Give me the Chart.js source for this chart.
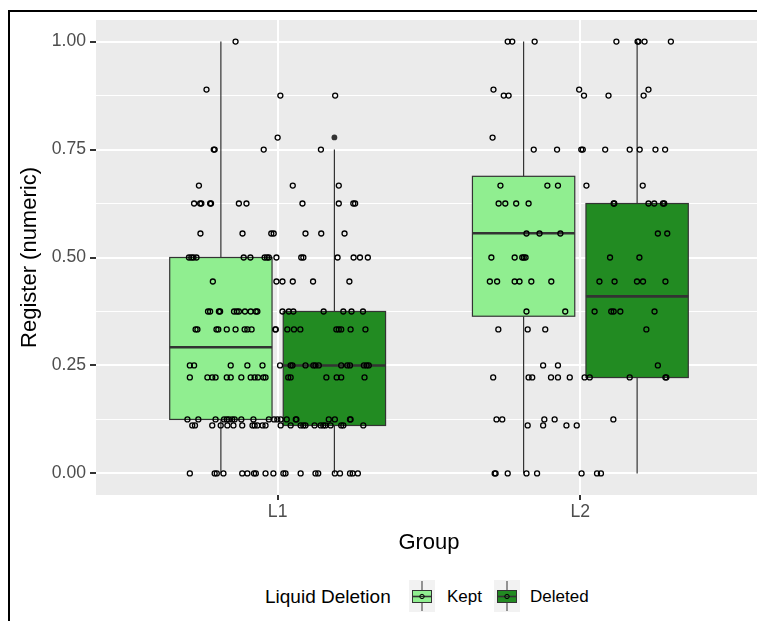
<!DOCTYPE html>
<html>
<head>
<meta charset="utf-8">
<script src="https://cdn.jsdelivr.net/npm/chart.js@4.4.0/dist/chart.umd.min.js"></script>
<style>
  body { margin: 0; background: #fff; }
  #wrap { position: relative; width: 757px; height: 621px; overflow: hidden; font-family: 'Liberation Sans', Arial, sans-serif; }
  #frame { position: absolute; left: 8px; top: 10px; width: 800px; height: 700px; border-left: 2px solid #000; border-top: 2px solid #000; }
  #registerChart { position: absolute; left: 0; top: 0; }
  .lg { position: absolute; color: #000; white-space: nowrap; line-height: 1; }
  .key { position: absolute; }
</style>
</head>
<body>
<div id="wrap">
  <div id="frame"></div>
  <canvas id="registerChart" width="780" height="565"></canvas>
  <span class="lg" style="left:265px; top:587px; font-size:19px;">Liquid Deletion</span>
  <canvas class="key" id="keyKept" width="26" height="32" style="left:409px; top:580px;"></canvas>
  <span class="lg" style="left:447px; top:588px; font-size:17px;">Kept</span>
  <canvas class="key" id="keyDeleted" width="26" height="32" style="left:494px; top:580px;"></canvas>
  <span class="lg" style="left:530px; top:588px; font-size:17px;">Deleted</span>
</div>
<script>
'use strict';

// Groups on the x axis and the two fill levels
const categories = ['L1', 'L2'];
const seriesNames = ['Kept', 'Deleted'];

// Box statistics, one entry per group
const keptMin = [0, 0];
const keptQ1 = [0.125, 0.364];
const keptMedian = [0.292, 0.556];
const keptQ3 = [0.5, 0.688];
const keptMax = [1, 1];
const keptOutliers = [[], []];

const deletedMin = [0, 0];
const deletedQ1 = [0.111, 0.222];
const deletedMedian = [0.25, 0.41];
const deletedQ3 = [0.375, 0.625];
const deletedMax = [0.75, 1];
const deletedOutliers = [[0.778], []];

// Register values that occur in the data (top to bottom)
const registerLevels = [1, 8 / 9, 7 / 8, 7 / 9, 3 / 4, 2 / 3, 5 / 8, 5 / 9, 1 / 2, 4 / 9, 3 / 8, 1 / 3, 1 / 4, 2 / 9, 1 / 8, 1 / 9, 0];

// Horizontal jitter of every raw observation, per level, in group units
const l1Jitter = [
  [-0.139],
  [-0.235],
  [0.009, 0.190],
  [0.000],
  [-0.211, -0.208, -0.046, 0.143],
  [-0.260, 0.050, 0.202],
  [-0.276, -0.256, -0.252, -0.223, -0.220, -0.128, -0.103, 0.082, 0.202, 0.250, 0.256],
  [-0.255, -0.116, -0.021, -0.013, 0.092, 0.144, 0.221],
  [-0.293, -0.285, -0.278, -0.268, -0.112, -0.090, -0.043, -0.035, -0.029, -0.004, 0.078, 0.085, 0.198, 0.251, 0.272, 0.298],
  [-0.214, -0.004, 0.016, 0.050, 0.117, 0.237],
  [-0.230, -0.223, -0.194, -0.190, -0.144, -0.135, -0.128, -0.108, -0.089, -0.072, -0.067, 0.016, 0.037, 0.052, 0.152, 0.217, 0.244, 0.282],
  [-0.271, -0.265, -0.202, -0.196, -0.168, -0.139, -0.109, -0.100, -0.086, -0.008, -0.006, 0.032, 0.054, 0.075, 0.194, 0.202, 0.210, 0.241, 0.290],
  [-0.290, -0.276, -0.155, -0.100, -0.050, 0.008, 0.043, 0.049, 0.092, 0.118, 0.125, 0.136, 0.210, 0.230, 0.239, 0.285, 0.294, 0.301],
  [-0.290, -0.232, -0.216, -0.205, -0.168, -0.155, -0.120, -0.089, -0.076, -0.065, -0.047, -0.040, 0.035, 0.043, 0.161, 0.195, 0.210, 0.287],
  [-0.298, -0.262, -0.205, -0.177, -0.168, -0.161, -0.150, -0.142, -0.120, -0.080, -0.029, -0.012, -0.001, 0.010, 0.030, 0.060, 0.062, 0.169, 0.189, 0.239, 0.241],
  [-0.282, -0.273, -0.216, -0.188, -0.166, -0.146, -0.117, -0.083, -0.076, -0.067, -0.050, -0.040, 0.010, 0.043, 0.076, 0.085, 0.092, 0.122, 0.142, 0.151, 0.158, 0.175, 0.210, 0.217, 0.283],
  [-0.290, -0.208, -0.201, -0.179, -0.117, -0.100, -0.078, -0.072, -0.040, -0.014, 0.019, 0.026, 0.076, 0.125, 0.134, 0.189, 0.206, 0.239, 0.248, 0.265]
];

const l2Jitter = [
  [-0.240, -0.225, -0.151, 0.119, 0.189, 0.192, 0.212, 0.299],
  [-0.287, -0.004, 0.225],
  [-0.253, -0.237, 0.012, 0.093, 0.209],
  [-0.290],
  [-0.154, -0.077, 0.003, 0.008, 0.082, 0.163, 0.196, 0.248, 0.280],
  [-0.264, -0.109, -0.074, 0.020, 0.206],
  [-0.270, -0.248, -0.212, -0.171, 0.110, 0.112, 0.225, 0.244, 0.273, 0.277],
  [-0.178, -0.135, -0.066, 0.256, 0.287],
  [-0.294, -0.217, -0.192, -0.187, -0.181, 0.098, 0.195],
  [-0.299, -0.275, -0.217, -0.201, -0.162, -0.096, 0.063, 0.113, 0.187, 0.207, 0.281],
  [-0.178, -0.050, 0.047, 0.102, 0.110, 0.132, 0.245],
  [-0.271, -0.174, -0.116, 0.218],
  [-0.123, -0.074, 0.256],
  [-0.288, -0.171, -0.159, -0.097, -0.074, -0.035, 0.014, 0.031, 0.163, 0.281, 0.284],
  [-0.277, -0.258, -0.119, -0.085, 0.109],
  [-0.174, -0.123, -0.046, -0.012],
  [-0.283, -0.280, -0.240, -0.178, -0.143, 0.004, 0.055, 0.068]
];

const yBreaks = [0, 0.125, 0.25, 0.375, 0.5, 0.625, 0.75, 0.875, 1];

// styling
const FONT = "'Liberation Sans', Arial, sans-serif";
const fillColors = ['#90EE90', '#228B22'];
const lineColor = '#333333';
const dodge = 0.1875;
const boxHalf = 0.169;

const boxes = [
  { min: keptMin, q1: keptQ1, med: keptMedian, q3: keptQ3, max: keptMax, out: keptOutliers },
  { min: deletedMin, q1: deletedQ1, med: deletedMedian, q3: deletedQ3, max: deletedMax, out: deletedOutliers }
];

function jitterPoints(groupIndex, jitter) {
  let pts = [];
  registerLevels.forEach((level, k) => {
    jitter[k].forEach(off => {
      pts.push({ x: groupIndex + 1 + off, y: level });
    });
  });
  return pts;
}

function isMajor(v) {
  return Math.abs(v * 4 - Math.round(v * 4)) < 1e-6;
}

// grey panel behind everything
const panelPlugin = {
  id: 'panel',
  beforeDraw(chart) {
    const a = chart.chartArea;
    const c = chart.ctx;
    c.save();
    c.fillStyle = '#EBEBEB';
    c.fillRect(a.left, a.top, a.right - a.left, a.bottom - a.top);
    c.restore();
  }
};

// boxes, whiskers, medians and outliers
const boxPlugin = {
  id: 'boxes',
  beforeDatasetsDraw(chart) {
    const x = chart.scales.x;
    const y = chart.scales.y;
    const c = chart.ctx;
    c.save();
    boxes.forEach((b, s) => {
      categories.forEach((cat, i) => {
        const xc = i + 1 + (s === 0 ? -dodge : dodge);
        const px = x.getPixelForValue(xc);
        const left = x.getPixelForValue(xc - boxHalf);
        const right = x.getPixelForValue(xc + boxHalf);
        const top = y.getPixelForValue(b.q3[i]);
        const bottom = y.getPixelForValue(b.q1[i]);

        c.strokeStyle = lineColor;
        c.lineWidth = 1.2;
        c.beginPath();
        c.moveTo(px, y.getPixelForValue(b.max[i]));
        c.lineTo(px, top);
        c.moveTo(px, bottom);
        c.lineTo(px, y.getPixelForValue(b.min[i]));
        c.stroke();

        c.fillStyle = fillColors[s];
        c.fillRect(left, top, right - left, bottom - top);
        c.strokeRect(left, top, right - left, bottom - top);

        const pm = y.getPixelForValue(b.med[i]);
        c.lineWidth = 2.6;
        c.beginPath();
        c.moveTo(left, pm);
        c.lineTo(right, pm);
        c.stroke();

        c.fillStyle = lineColor;
        b.out[i].forEach(v => {
          c.beginPath();
          c.arc(px, y.getPixelForValue(v), 2.9, 0, Math.PI * 2);
          c.fill();
        });
      });
    });
    c.restore();
  }
};

const ctx = document.getElementById('registerChart');

new Chart(ctx, {
  type: 'scatter',
  data: {
    datasets: [
      { label: categories[0], data: jitterPoints(0, l1Jitter) },
      { label: categories[1], data: jitterPoints(1, l2Jitter) }
    ].map(ds => Object.assign(ds, {
      pointRadius: 2.5,
      pointBorderWidth: 1.3,
      pointBorderColor: '#000',
      pointBackgroundColor: 'rgba(0,0,0,0)'
    }))
  },
  options: {
    responsive: false,
    animation: false,
    layout: { padding: { top: 20, right: 18, left: 0, bottom: 0 } },
    plugins: {
      legend: { display: false },
      tooltip: { enabled: false }
    },
    scales: {
      x: {
        type: 'linear',
        min: 0.4,
        max: 2.6,
        afterBuildTicks: s => { s.ticks = categories.map((c, i) => ({ value: i + 1 })); },
        afterFit: s => { s.height = 70; },
        border: { display: false },
        grid: { color: '#FFFFFF', lineWidth: 2, tickColor: lineColor, tickLength: 5 },
        ticks: {
          color: '#4D4D4D',
          font: { family: FONT, size: 17.6 },
          padding: 2,
          callback: v => categories[Math.round(v) - 1]
        },
        title: {
          display: true,
          text: 'Group',
          color: '#000',
          font: { family: FONT, size: 22 },
          padding: { top: 0, bottom: 9 }
        }
      },
      y: {
        min: -0.05,
        max: 1.05,
        afterBuildTicks: s => { s.ticks = yBreaks.map(v => ({ value: v })); },
        afterFit: s => { s.width = 96; },
        border: { display: false },
        grid: {
          color: '#FFFFFF',
          lineWidth: c => isMajor(c.tick.value) ? 2 : 1,
          tickColor: c => isMajor(c.tick.value) ? lineColor : 'rgba(0,0,0,0)',
          tickLength: 6
        },
        ticks: {
          color: '#4D4D4D',
          font: { family: FONT, size: 17.6 },
          padding: 4,
          callback: v => isMajor(v) ? v.toFixed(2) : ''
        },
        title: {
          display: true,
          text: 'Register (numeric)',
          color: '#000',
          font: { family: FONT, size: 22 },
          padding: { top: 17, bottom: 0 }
        }
      }
    }
  },
  plugins: [panelPlugin, boxPlugin]
});

// legend keys
function drawKey(id, fill) {
  const k = document.getElementById(id).getContext('2d');
  k.fillStyle = '#F2F2F2';
  k.fillRect(0, 0, 26, 32);
  k.strokeStyle = lineColor;
  k.lineWidth = 1;
  k.beginPath();
  k.moveTo(13, 1);
  k.lineTo(13, 31);
  k.stroke();
  k.fillStyle = fill;
  k.fillRect(3.5, 10.5, 19, 12);
  k.strokeRect(3.5, 10.5, 19, 12);
  k.lineWidth = 1.6;
  k.beginPath();
  k.moveTo(3.5, 16.5);
  k.lineTo(22.5, 16.5);
  k.stroke();
  k.lineWidth = 1;
  k.strokeStyle = '#000';
  k.beginPath();
  k.arc(13, 16.5, 2.2, 0, Math.PI * 2);
  k.stroke();
}
drawKey('keyKept', fillColors[0]);
drawKey('keyDeleted', fillColors[1]);
</script>
</body>
</html>
